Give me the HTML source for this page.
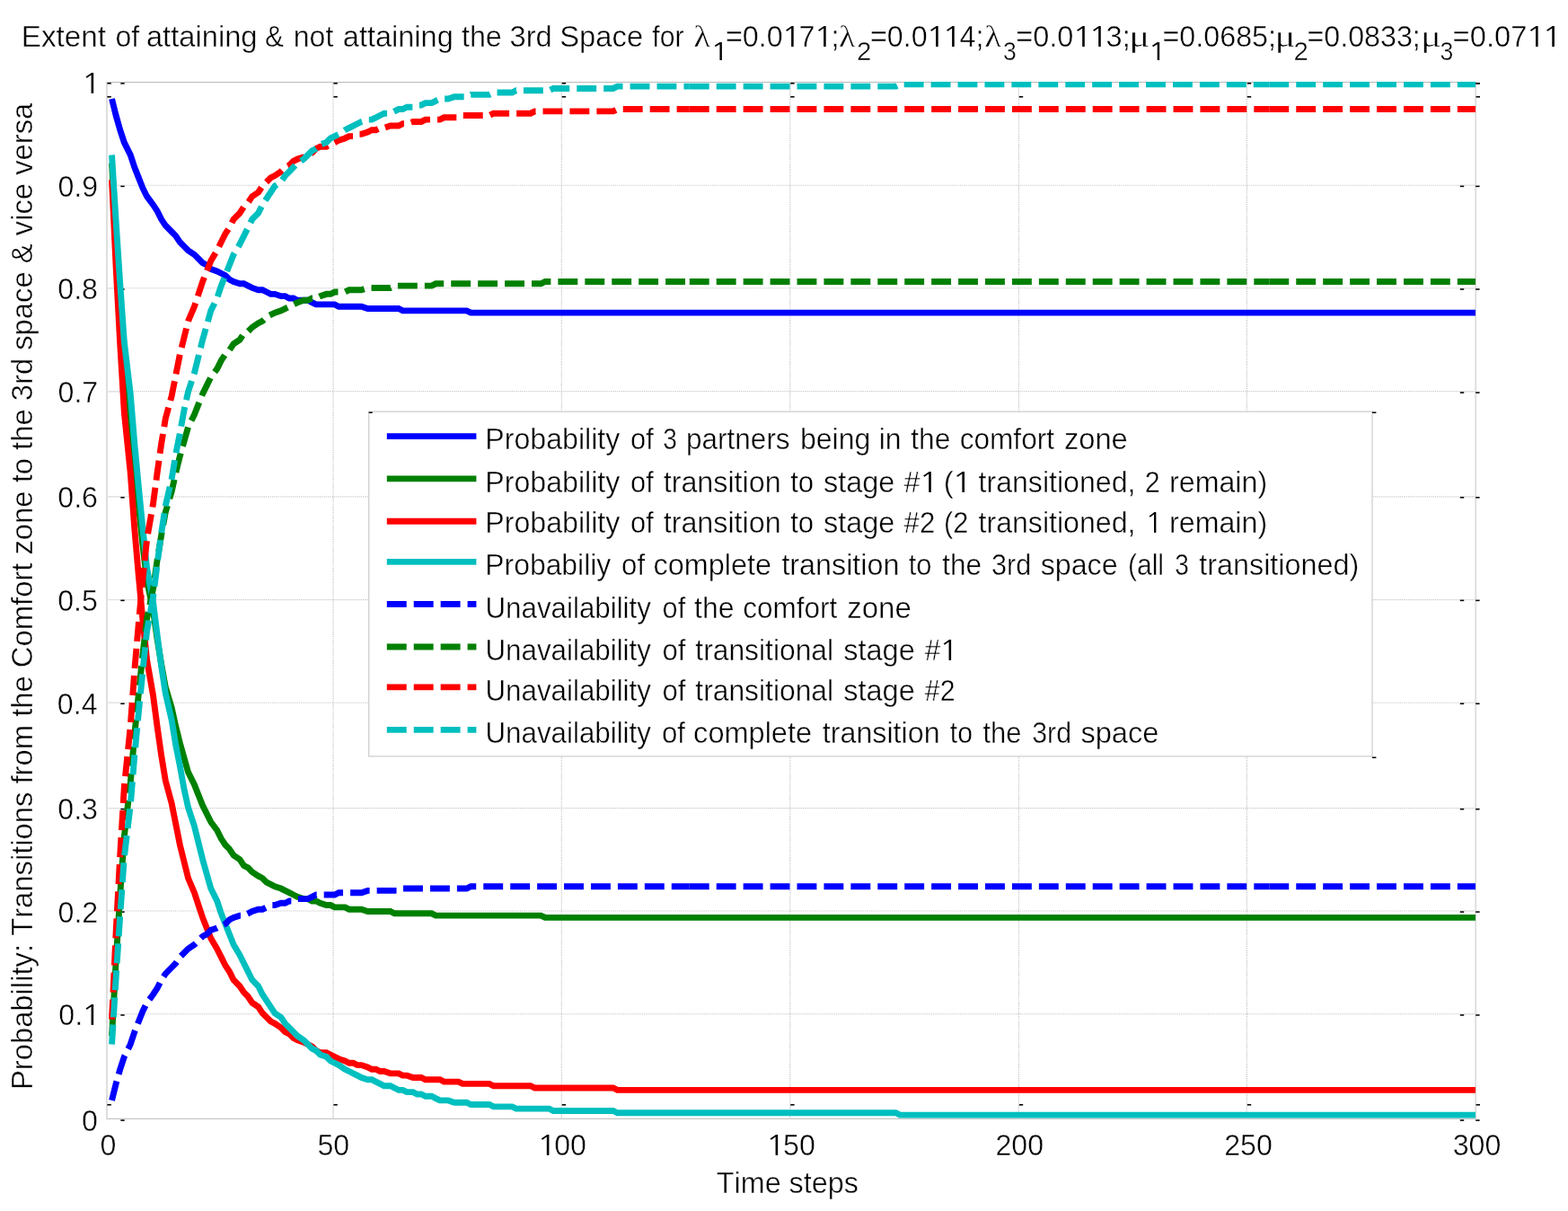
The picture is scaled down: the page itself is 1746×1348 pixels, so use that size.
<!DOCTYPE html>
<html lang="en"><head><meta charset="utf-8"><title>Extent of attaining &amp; not attaining the 3rd Space</title>
<style>html,body{margin:0;padding:0;background:#fff}body{width:1746px;height:1348px;overflow:hidden}svg{display:block}text{font-family:"Liberation Sans",sans-serif;font-size:32.5px;fill:#000;font-kerning:none;stroke:#fff;stroke-width:0.42px;stroke-linejoin:round;paint-order:fill stroke;white-space:pre}.g{font-family:"Liberation Serif",serif;stroke-width:0.45px}.n{font-family:"NanumGothic","IPAGothic","Liberation Sans",sans-serif;stroke:none}</style></head><body>
<svg xmlns="http://www.w3.org/2000/svg" width="1746" height="1348" viewBox="0 0 1746 1348">
<rect width="1746" height="1348" fill="#fff"/>
<defs><clipPath id="ax"><rect x="119.0" y="91.1" width="1524.2" height="1154.3"/></clipPath></defs>
<g fill="none" stroke-width="1.1" stroke-dasharray="1.15,1.15">
<line x1="371.0" y1="91.5" x2="371.0" y2="1245.4" stroke="#bdbdbd"/>
<line x1="625.3" y1="91.5" x2="625.3" y2="1245.4" stroke="#bdbdbd"/>
<line x1="879.8" y1="91.5" x2="879.8" y2="1245.4" stroke="#bdbdbd"/>
<line x1="1134.4" y1="91.5" x2="1134.4" y2="1245.4" stroke="#bdbdbd"/>
<line x1="1388.4" y1="91.5" x2="1388.4" y2="1245.4" stroke="#bdbdbd"/>
<line x1="119.0" y1="206.3" x2="1643.2" y2="206.3" stroke="#c4c4c4"/>
<line x1="119.0" y1="320.7" x2="1643.2" y2="320.7" stroke="#c4c4c4"/>
<line x1="119.0" y1="435.5" x2="1643.2" y2="435.5" stroke="#c4c4c4"/>
<line x1="119.0" y1="552.9" x2="1643.2" y2="552.9" stroke="#c4c4c4"/>
<line x1="119.0" y1="667.6" x2="1643.2" y2="667.6" stroke="#c4c4c4"/>
<line x1="119.0" y1="782.2" x2="1643.2" y2="782.2" stroke="#c4c4c4"/>
<line x1="119.0" y1="899.6" x2="1643.2" y2="899.6" stroke="#c4c4c4"/>
<line x1="119.0" y1="1014.0" x2="1643.2" y2="1014.0" stroke="#c4c4c4"/>
<line x1="119.0" y1="1128.8" x2="1643.2" y2="1128.8" stroke="#c4c4c4"/>
</g>
<g fill="none">
<line x1="118.0" y1="91.5" x2="1644.2" y2="91.5" stroke="#b9b9b9" stroke-width="1.1"/>
<line x1="118.0" y1="1245.4" x2="1644.2" y2="1245.4" stroke="#c6c6c6" stroke-width="1.4"/>
<line x1="119.0" y1="91.5" x2="119.0" y2="1245.4" stroke="#dedede" stroke-width="2"/>
<line x1="1643.2" y1="91.5" x2="1643.2" y2="1245.4" stroke="#dedede" stroke-width="1.9"/>
</g>
<g stroke="#e2e2e2" stroke-width="1.2" fill="none">
<line x1="119.0" y1="1129.0" x2="134.3" y2="1129.0"/>
<line x1="1625.8" y1="1129.0" x2="1643.2" y2="1129.0"/>
<line x1="119.0" y1="1014.1" x2="134.3" y2="1014.1"/>
<line x1="1625.8" y1="1014.1" x2="1643.2" y2="1014.1"/>
<line x1="119.0" y1="899.7" x2="134.3" y2="899.7"/>
<line x1="1625.8" y1="899.7" x2="1643.2" y2="899.7"/>
<line x1="119.0" y1="782.3" x2="134.3" y2="782.3"/>
<line x1="1625.8" y1="782.3" x2="1643.2" y2="782.3"/>
<line x1="119.0" y1="667.4" x2="134.3" y2="667.4"/>
<line x1="1625.8" y1="667.4" x2="1643.2" y2="667.4"/>
<line x1="119.0" y1="552.8" x2="134.3" y2="552.8"/>
<line x1="1625.8" y1="552.8" x2="1643.2" y2="552.8"/>
<line x1="119.0" y1="436.1" x2="134.3" y2="436.1"/>
<line x1="1625.8" y1="436.1" x2="1643.2" y2="436.1"/>
<line x1="119.0" y1="321.0" x2="134.3" y2="321.0"/>
<line x1="1625.8" y1="321.0" x2="1643.2" y2="321.0"/>
<line x1="119.0" y1="206.4" x2="134.3" y2="206.4"/>
<line x1="1625.8" y1="206.4" x2="1643.2" y2="206.4"/>
<line x1="371.0" y1="1229.8" x2="371.0" y2="1245.4"/>
<line x1="371.0" y1="91.5" x2="371.0" y2="106.9"/>
<line x1="625.3" y1="1229.8" x2="625.3" y2="1245.4"/>
<line x1="625.3" y1="91.5" x2="625.3" y2="106.9"/>
<line x1="879.8" y1="1229.8" x2="879.8" y2="1245.4"/>
<line x1="879.8" y1="91.5" x2="879.8" y2="106.9"/>
<line x1="1134.4" y1="1229.8" x2="1134.4" y2="1245.4"/>
<line x1="1134.4" y1="91.5" x2="1134.4" y2="106.9"/>
<line x1="1388.4" y1="1229.8" x2="1388.4" y2="1245.4"/>
<line x1="1388.4" y1="91.5" x2="1388.4" y2="106.9"/>
</g>
<g fill="#000">
<rect x="134.30" y="1246.32" width="4.40" height="1.55"/>
<rect x="1625.80" y="1246.32" width="4.40" height="1.55"/>
<rect x="1643.20" y="1246.32" width="4.40" height="1.55"/>
<rect x="134.30" y="1129.17" width="4.40" height="1.55"/>
<rect x="1625.80" y="1129.17" width="4.40" height="1.55"/>
<rect x="1643.20" y="1129.17" width="4.40" height="1.55"/>
<rect x="134.30" y="1014.32" width="4.40" height="1.55"/>
<rect x="1625.80" y="1014.32" width="4.40" height="1.55"/>
<rect x="1643.20" y="1014.32" width="4.40" height="1.55"/>
<rect x="134.30" y="899.92" width="4.40" height="1.55"/>
<rect x="1625.80" y="899.92" width="4.40" height="1.55"/>
<rect x="1643.20" y="899.92" width="4.40" height="1.55"/>
<rect x="134.30" y="782.52" width="4.40" height="1.55"/>
<rect x="1625.80" y="782.52" width="4.40" height="1.55"/>
<rect x="1643.20" y="782.52" width="4.40" height="1.55"/>
<rect x="134.30" y="667.62" width="4.40" height="1.55"/>
<rect x="1625.80" y="667.62" width="4.40" height="1.55"/>
<rect x="1643.20" y="667.62" width="4.40" height="1.55"/>
<rect x="134.30" y="553.02" width="4.40" height="1.55"/>
<rect x="1625.80" y="553.02" width="4.40" height="1.55"/>
<rect x="1643.20" y="553.02" width="4.40" height="1.55"/>
<rect x="134.30" y="436.27" width="4.40" height="1.55"/>
<rect x="1625.80" y="436.27" width="4.40" height="1.55"/>
<rect x="1643.20" y="436.27" width="4.40" height="1.55"/>
<rect x="134.30" y="321.22" width="4.40" height="1.55"/>
<rect x="1625.80" y="321.22" width="4.40" height="1.55"/>
<rect x="1643.20" y="321.22" width="4.40" height="1.55"/>
<rect x="134.30" y="206.62" width="4.40" height="1.55"/>
<rect x="1625.80" y="206.62" width="4.40" height="1.55"/>
<rect x="1643.20" y="206.62" width="4.40" height="1.55"/>
<rect x="134.30" y="92.12" width="4.40" height="1.55"/>
<rect x="1625.80" y="92.12" width="4.40" height="1.55"/>
<rect x="1643.20" y="92.12" width="4.40" height="1.55"/>
<rect x="119.40" y="1229.02" width="4.40" height="1.55"/>
<rect x="119.40" y="92.02" width="4.40" height="1.55"/>
<rect x="119.40" y="107.02" width="4.40" height="1.55"/>
<rect x="371.40" y="1229.02" width="4.40" height="1.55"/>
<rect x="371.40" y="92.02" width="4.40" height="1.55"/>
<rect x="371.40" y="107.02" width="4.40" height="1.55"/>
<rect x="625.70" y="1229.02" width="4.40" height="1.55"/>
<rect x="625.70" y="92.02" width="4.40" height="1.55"/>
<rect x="625.70" y="107.02" width="4.40" height="1.55"/>
<rect x="880.20" y="1229.02" width="4.40" height="1.55"/>
<rect x="880.20" y="92.02" width="4.40" height="1.55"/>
<rect x="880.20" y="107.02" width="4.40" height="1.55"/>
<rect x="1134.80" y="1229.02" width="4.40" height="1.55"/>
<rect x="1134.80" y="92.02" width="4.40" height="1.55"/>
<rect x="1134.80" y="107.02" width="4.40" height="1.55"/>
<rect x="1388.80" y="1229.02" width="4.40" height="1.55"/>
<rect x="1388.80" y="92.02" width="4.40" height="1.55"/>
<rect x="1388.80" y="107.02" width="4.40" height="1.55"/>
<rect x="1643.60" y="1229.02" width="4.40" height="1.55"/>
<rect x="1643.60" y="92.02" width="4.40" height="1.55"/>
<rect x="1643.60" y="107.02" width="4.40" height="1.55"/>
</g>
<g clip-path="url(#ax)" fill="none" stroke-width="6.9" stroke-linejoin="miter" stroke-linecap="butt">
<path d="M124.54,110.00 L129.14,128.50 L133.73,144.68 L138.33,158.56 L145.22,172.43 L149.81,186.30 L154.41,197.87 L159.00,209.43 L163.60,218.68 L170.49,227.92 L175.09,234.86 L179.68,244.11 L184.27,251.05 L191.17,257.98 L195.76,262.61 L200.36,269.54 L204.95,274.17 L209.54,278.79 L216.44,283.42 L221.03,288.04 L225.63,292.67 L230.22,294.98 L234.81,299.60 L241.71,301.91 L246.30,304.23 L250.90,306.54 L255.49,311.16 L260.09,313.48 L266.98,315.79 L271.57,315.79 L276.17,318.10 L280.76,320.41 L287.65,322.72 L292.25,322.72 L296.84,325.04 L301.44,327.35 L306.03,327.35 L312.92,329.66 L317.52,329.66 L322.11,331.97 L326.71,331.97 L331.30,334.29 L342.79,334.29 L347.38,336.60 L351.98,338.91 L372.65,338.91 L377.25,341.22 L402.52,341.22 L409.41,343.53 L443.87,343.53 L448.46,345.85 L519.68,345.85 L524.27,348.16 L1643.06,348.16" stroke="#0000ff"/>
<path d="M124.54,181.68 L129.14,264.92 L133.73,338.91 L138.33,403.65 L145.22,463.77 L149.81,516.95 L154.41,563.19 L159.00,607.12 L163.60,646.43 L170.49,679.22 L175.09,711.59 L179.68,739.34 L184.27,764.77 L191.17,787.89 L195.76,808.70 L200.36,827.20 L204.95,843.39 L209.54,859.57 L216.44,873.44 L221.03,885.00 L225.63,896.57 L230.22,905.81 L234.81,915.06 L241.71,924.31 L246.30,933.56 L250.90,940.50 L255.49,945.12 L260.09,952.06 L266.98,956.68 L271.57,963.62 L276.17,965.93 L280.76,970.56 L287.65,975.18 L292.25,977.49 L296.84,982.12 L301.44,984.43 L306.03,986.74 L312.92,989.05 L317.52,991.37 L322.11,993.68 L326.71,995.99 L331.30,998.30 L338.19,1000.61 L342.79,1000.61 L347.38,1002.93 L351.98,1002.93 L356.57,1005.24 L363.46,1007.55 L368.06,1007.55 L372.65,1009.86 L384.14,1009.86 L388.73,1012.18 L402.52,1012.18 L409.41,1014.49 L434.68,1014.49 L439.27,1016.80 L480.63,1016.80 L485.22,1019.11 L602.38,1019.11 L606.98,1021.42 L1643.06,1021.42" stroke="#008000"/>
<path d="M124.54,200.18 L129.14,297.29 L133.73,382.84 L138.33,459.14 L145.22,526.20 L149.81,588.63 L154.41,641.81 L159.00,690.78 L163.60,734.71 L170.49,774.02 L175.09,808.70 L179.68,841.07 L184.27,868.82 L191.17,894.25 L195.76,917.38 L200.36,940.50 L204.95,959.00 L209.54,977.49 L216.44,993.68 L221.03,1007.55 L225.63,1021.42 L230.22,1032.99 L234.81,1044.55 L241.71,1056.11 L246.30,1065.36 L250.90,1074.61 L255.49,1081.54 L260.09,1090.79 L266.98,1097.73 L271.57,1104.66 L276.17,1109.29 L280.76,1116.22 L287.65,1120.85 L292.25,1127.79 L296.84,1132.41 L301.44,1137.03 L306.03,1139.35 L312.92,1143.97 L317.52,1148.60 L322.11,1150.91 L326.71,1155.53 L331.30,1157.84 L338.19,1160.16 L342.79,1162.47 L347.38,1164.78 L351.98,1169.41 L356.57,1171.72 L363.46,1171.72 L368.06,1174.03 L372.65,1176.34 L377.25,1178.65 L384.14,1180.97 L388.73,1183.28 L393.33,1183.28 L397.92,1185.59 L402.52,1185.59 L409.41,1187.90 L414.00,1190.22 L418.60,1190.22 L423.19,1192.53 L427.79,1192.53 L434.68,1194.84 L443.87,1194.84 L448.46,1197.15 L453.06,1197.15 L459.95,1199.46 L469.14,1199.46 L473.73,1201.78 L489.82,1201.78 L494.41,1204.09 L510.49,1204.09 L515.09,1206.40 L544.95,1206.40 L549.55,1208.71 L590.90,1208.71 L595.49,1211.03 L682.79,1211.03 L687.38,1213.34 L1643.06,1213.34" stroke="#ff0000"/>
<path d="M124.54,172.43 L129.14,246.42 L133.73,315.79 L138.33,380.53 L145.22,438.33 L149.81,493.83 L154.41,542.38 L159.00,588.63 L163.60,632.56 L170.49,669.97 L175.09,706.97 L179.68,741.65 L184.27,771.71 L191.17,801.77 L195.76,829.51 L200.36,852.63 L204.95,878.07 L209.54,898.88 L216.44,919.69 L221.03,938.19 L225.63,956.68 L230.22,972.87 L234.81,989.05 L241.71,1002.93 L246.30,1016.80 L250.90,1028.36 L255.49,1039.92 L260.09,1051.48 L266.98,1063.04 L271.57,1072.29 L276.17,1081.54 L280.76,1090.79 L287.65,1097.73 L292.25,1106.98 L296.84,1113.91 L301.44,1120.85 L306.03,1127.79 L312.92,1132.41 L317.52,1139.35 L322.11,1143.97 L326.71,1148.60 L331.30,1153.22 L338.19,1157.84 L342.79,1162.47 L347.38,1167.09 L351.98,1169.41 L356.57,1174.03 L363.46,1176.34 L368.06,1180.97 L372.65,1183.28 L377.25,1185.59 L384.14,1190.22 L388.73,1192.53 L393.33,1194.84 L397.92,1197.15 L402.52,1199.46 L409.41,1201.78 L414.00,1201.78 L418.60,1204.09 L423.19,1206.40 L427.79,1208.71 L434.68,1208.71 L439.27,1211.03 L443.87,1213.34 L448.46,1213.34 L453.06,1215.65 L459.95,1215.65 L464.54,1217.96 L469.14,1217.96 L473.73,1220.27 L480.63,1220.27 L485.22,1222.59 L489.82,1224.90 L499.00,1224.90 L505.90,1227.21 L519.68,1227.21 L524.27,1229.52 L544.95,1229.52 L549.55,1231.83 L570.22,1231.83 L574.82,1234.15 L611.57,1234.15 L616.17,1236.46 L682.79,1236.46 L687.38,1238.77 L997.52,1238.77 L1002.11,1241.08 L1643.06,1241.08" stroke="#00bfbf"/>
<g transform="scale(2.2973,2.3122)" stroke="#0000ff" stroke-width="3.004" stroke-dasharray="9.533,3.495">
<path d="M54.213,529.754 L56.213,521.754 L58.213,514.754 L60.213,508.754 L63.213,502.754 L65.213,496.754 L67.213,491.754 L69.213,486.754 L71.213,482.754 L74.213,478.754 L76.213,475.754 L78.213,471.754 L80.213,468.754 L83.213,465.754 L85.213,463.754 L87.213,460.754 L89.213,458.754 L91.213,456.754 L94.213,454.754 L96.213,452.754 L98.213,450.754 L100.213,449.754 L102.213,447.754 L105.213,446.754 L107.213,445.754 L109.213,444.754 L111.213,442.754 L113.213,441.754 L116.213,440.754 L118.213,440.754 L120.213,439.754 L122.213,438.754 L125.213,437.754 L127.213,437.754 L129.213,436.754 L131.213,435.754 L133.213,435.754 L136.213,434.754 L138.213,434.754 L140.213,433.754 L142.213,433.754 L144.213,432.754 L149.213,432.754 L151.213,431.754 L153.213,430.754 L162.213,430.754 L164.213,429.754 L175.213,429.754 L178.213,428.754 L193.213,428.754 L195.213,427.754 L226.213,427.754 L228.213,426.754 L334.213,426.754"/>
<path d="M334.213,426.754 L615.213,426.754"/>
<path d="M615.213,426.754 L715.213,426.754"/>
</g>
<g transform="scale(2.2973,2.3122)" stroke="#008000" stroke-width="3.004" stroke-dasharray="9.533,3.495">
<path d="M54.213,498.754 L56.213,462.754 L58.213,430.754 L60.213,402.754 L63.213,376.754 L65.213,353.754 L67.213,333.754 L69.213,314.754 L71.213,297.754 L74.213,283.574 L76.213,269.574 L78.213,257.574 L80.213,246.574 L83.213,236.574 L85.213,227.574 L87.213,219.574 L89.213,212.574 L91.213,205.574 L94.213,199.574 L96.213,194.574 L98.213,189.574 L100.213,185.574 L102.213,181.574 L105.213,177.574 L107.213,173.574 L109.213,170.574 L111.213,168.574 L113.213,165.574 L116.213,163.574 L118.213,160.574 L120.213,159.574 L122.213,157.574 L125.213,155.574 L127.213,154.574 L129.213,152.574 L131.213,151.574 L133.213,150.574 L136.213,149.574 L138.213,148.574 L140.213,147.574 L142.213,146.574 L144.213,145.574 L147.213,144.574 L149.213,144.574 L151.213,143.574 L153.213,143.574 L155.213,142.574 L158.213,141.574 L160.213,141.574 L162.213,140.574 L167.213,140.574 L169.213,139.574 L175.213,139.574 L178.213,138.574 L189.213,138.574 L191.213,137.574 L209.213,137.574 L211.213,136.574 L262.213,136.574 L264.213,135.574 L334.213,135.574"/>
<path d="M334.213,135.574 L615.213,135.574"/>
<path d="M615.213,135.574 L715.213,135.574"/>
</g>
<g transform="scale(2.2973,2.3122)" stroke="#ff0000" stroke-width="3.004" stroke-dasharray="9.533,3.495">
<path d="M54.213,490.754 L56.213,448.754 L58.213,411.754 L60.213,378.754 L63.213,349.754 L65.213,322.754 L67.213,299.754 L69.213,278.574 L71.213,259.574 L74.213,242.574 L76.213,227.574 L78.213,213.574 L80.213,201.574 L83.213,190.574 L85.213,180.574 L87.213,170.574 L89.213,162.574 L91.213,154.574 L94.213,147.574 L96.213,141.574 L98.213,135.574 L100.213,130.574 L102.213,125.574 L105.213,120.574 L107.213,116.574 L109.213,112.574 L111.213,109.574 L113.213,105.574 L116.213,102.574 L118.213,99.574 L120.213,97.574 L122.213,94.574 L125.213,92.574 L127.213,89.574 L129.213,87.574 L131.213,85.574 L133.213,84.574 L136.213,82.574 L138.213,80.574 L140.213,79.574 L142.213,77.574 L144.213,76.574 L147.213,75.574 L149.213,74.574 L151.213,73.574 L153.213,71.574 L155.213,70.574 L158.213,70.574 L160.213,69.574 L162.213,68.574 L164.213,67.574 L167.213,66.574 L169.213,65.574 L171.213,65.574 L173.213,64.574 L175.213,64.574 L178.213,63.574 L180.213,62.574 L182.213,62.574 L184.213,61.574 L186.213,61.574 L189.213,60.574 L193.213,60.574 L195.213,59.574 L197.213,59.574 L200.213,58.574 L204.213,58.574 L206.213,57.574 L213.213,57.574 L215.213,56.574 L222.213,56.574 L224.213,55.574 L237.213,55.574 L239.213,54.574 L257.213,54.574 L259.213,53.574 L297.213,53.574 L299.213,52.574 L334.213,52.574"/>
<path d="M334.213,52.574 L615.213,52.574"/>
<path d="M615.213,52.574 L715.213,52.574"/>
</g>
<g transform="scale(2.2973,2.3122)" stroke="#00bfbf" stroke-width="3.004" stroke-dasharray="9.533,3.495">
<path d="M54.213,502.754 L56.213,470.754 L58.213,440.754 L60.213,412.754 L63.213,387.754 L65.213,363.754 L67.213,342.754 L69.213,322.754 L71.213,303.754 L74.213,287.574 L76.213,271.574 L78.213,256.574 L80.213,243.574 L83.213,230.574 L85.213,218.574 L87.213,208.574 L89.213,197.574 L91.213,188.574 L94.213,179.574 L96.213,171.574 L98.213,163.574 L100.213,156.574 L102.213,149.574 L105.213,143.574 L107.213,137.574 L109.213,132.574 L111.213,127.574 L113.213,122.574 L116.213,117.574 L118.213,113.574 L120.213,109.574 L122.213,105.574 L125.213,102.574 L127.213,98.574 L129.213,95.574 L131.213,92.574 L133.213,89.574 L136.213,87.574 L138.213,84.574 L140.213,82.574 L142.213,80.574 L144.213,78.574 L147.213,76.574 L149.213,74.574 L151.213,72.574 L153.213,71.574 L155.213,69.574 L158.213,68.574 L160.213,66.574 L162.213,65.574 L164.213,64.574 L167.213,62.574 L169.213,61.574 L171.213,60.574 L173.213,59.574 L175.213,58.574 L178.213,57.574 L180.213,57.574 L182.213,56.574 L184.213,55.574 L186.213,54.574 L189.213,54.574 L191.213,53.574 L193.213,52.574 L195.213,52.574 L197.213,51.574 L200.213,51.574 L202.213,50.574 L204.213,50.574 L206.213,49.574 L209.213,49.574 L211.213,48.574 L213.213,47.574 L217.213,47.574 L220.213,46.574 L226.213,46.574 L228.213,45.574 L237.213,45.574 L239.213,44.574 L248.213,44.574 L250.213,43.574 L266.213,43.574 L268.213,42.574 L297.213,42.574 L299.213,41.574 L334.213,41.574"/>
<path d="M334.213,41.574 L434.213,41.574 L436.213,40.574 L615.213,40.574"/>
<path d="M615.213,40.574 L715.213,40.574"/>
</g>
</g>
<text transform="translate(90.96,1258.50) scale(0.9900,1.0000)">0</text>
<text transform="translate(65.29,1141.35) scale(0.9900,1.0000)">0.</text>
<text transform="translate(90.30,1141.35) scale(1.2200,1.0000)" class="n" style="font-size:30.9px">1</text>
<text transform="translate(64.49,1026.50) scale(0.9900,1.0000)">0.2</text>
<text transform="translate(64.29,912.10) scale(0.9900,1.0000)">0.3</text>
<text transform="translate(63.81,794.70) scale(0.9900,1.0000)">0.4</text>
<text transform="translate(64.22,679.80) scale(0.9900,1.0000)">0.5</text>
<text transform="translate(64.29,565.20) scale(0.9900,1.0000)">0.6</text>
<text transform="translate(64.49,448.45) scale(0.9900,1.0000)">0.7</text>
<text transform="translate(64.27,333.40) scale(0.9900,1.0000)">0.8</text>
<text transform="translate(64.40,218.80) scale(0.9900,1.0000)">0.9</text>
<text transform="translate(90.30,104.30) scale(1.2200,1.0000)" class="n" style="font-size:30.9px">1</text>
<text transform="translate(111.50,1286.20) scale(0.9900,1.0000)">0</text>
<text transform="translate(353.44,1286.20) scale(0.9900,1.0000)">50</text>
<text transform="translate(597.52,1286.20) scale(1.2200,1.0000)" class="n" style="font-size:30.9px">1</text>
<text transform="translate(617.23,1286.20) scale(0.9900,1.0000)">00</text>
<text transform="translate(852.32,1286.20) scale(1.2200,1.0000)" class="n" style="font-size:30.9px">1</text>
<text transform="translate(872.03,1286.20) scale(0.9900,1.0000)">50</text>
<text transform="translate(1108.48,1286.20) scale(0.9900,1.0000)">200</text>
<text transform="translate(1363.13,1286.20) scale(0.9900,1.0000)">250</text>
<text transform="translate(1617.67,1286.20) scale(0.9900,1.0000)">300</text>
<text transform="translate(797.77,1328.30) scale(0.9954,1.0000)">Time steps</text>
<text transform="translate(36.30,1213.09) rotate(-90) scale(1.0091,1.0000)">Probability: Transitions from the Comfort zone to the 3rd space &amp; vice versa</text>
<text transform="translate(23.77,51.50) scale(1.0243,1.0000)">Extent </text>
<text transform="translate(128.56,51.50) scale(0.9850,1.0000)">of </text>
<text transform="translate(162.91,51.50) scale(1.0067,1.0000)">attaining </text>
<text transform="translate(295.10,51.50) scale(0.9637,1.0000)">&amp; </text>
<text transform="translate(326.77,51.50) scale(0.9864,1.0000)">not </text>
<text transform="translate(381.82,51.50) scale(1.0008,1.0000)">attaining </text>
<text transform="translate(513.91,51.50) scale(0.9944,1.0000)">the </text>
<text transform="translate(567.45,51.50) scale(1.0060,1.0000)">3rd </text>
<text transform="translate(623.21,51.50) scale(1.0086,1.0000)">Space </text>
<text transform="translate(726.37,51.50) scale(0.9288,1.0000)">for </text>
<text transform="translate(772.27,51.70) scale(1.1290,1.0000)" class="g" style="font-size:34.6px">λ</text>
<text transform="translate(790.78,66.60) scale(1.3091,1.0000)" class="n" style="font-size:27.2px">1</text>
<text transform="translate(807.92,51.50) scale(0.9934,1.0000)">=0.0</text>
<text transform="translate(869.84,51.50) scale(1.2242,1.0000)" class="n" style="font-size:30.9px">1</text>
<text transform="translate(889.62,51.50) scale(0.9934,1.0000)">7</text>
<text transform="translate(905.75,51.50) scale(1.2242,1.0000)" class="n" style="font-size:30.9px">1</text>
<text transform="translate(925.53,51.50) scale(0.9934,1.0000)">;</text>
<text transform="translate(934.00,51.70) scale(1.0971,1.0000)" class="g" style="font-size:34.6px">λ</text>
<text transform="translate(954.12,66.60) scale(1.0285,1.0000)" style="font-size:28.6px">2</text>
<text transform="translate(968.92,51.50) scale(0.9934,1.0000)">=0.0</text>
<text transform="translate(1030.84,51.50) scale(1.2242,1.0000)" class="n" style="font-size:30.9px">1</text>
<text transform="translate(1048.79,51.50) scale(1.2242,1.0000)" class="n" style="font-size:30.9px">1</text>
<text transform="translate(1068.57,51.50) scale(0.9934,1.0000)">4;</text>
<text transform="translate(1096.27,51.70) scale(1.1290,1.0000)" class="g" style="font-size:34.6px">λ</text>
<text transform="translate(1116.99,66.60) scale(0.9292,1.0000)" style="font-size:28.6px">3</text>
<text transform="translate(1131.31,51.50) scale(0.9999,1.0000)">=0.0</text>
<text transform="translate(1193.63,51.50) scale(1.2323,1.0000)" class="n" style="font-size:30.9px">1</text>
<text transform="translate(1211.71,51.50) scale(1.2323,1.0000)" class="n" style="font-size:30.9px">1</text>
<text transform="translate(1231.62,51.50) scale(0.9999,1.0000)">3;</text>
<text transform="translate(1257.32,51.70) scale(1.2719,1.0000)" class="g" style="font-size:33.8px">μ</text>
<text transform="translate(1277.88,66.60) scale(1.3091,1.0000)" class="n" style="font-size:27.2px">1</text>
<text transform="translate(1294.52,51.50) scale(0.9934,1.0000)">=0.0685;</text>
<text transform="translate(1419.52,51.70) scale(1.2719,1.0000)" class="g" style="font-size:33.8px">μ</text>
<text transform="translate(1440.52,66.60) scale(1.0285,1.0000)" style="font-size:28.6px">2</text>
<text transform="translate(1455.42,51.50) scale(0.9926,1.0000)">=0.0833;</text>
<text transform="translate(1581.92,51.70) scale(1.2719,1.0000)" class="g" style="font-size:33.8px">μ</text>
<text transform="translate(1603.39,66.60) scale(0.9292,1.0000)" style="font-size:28.6px">3</text>
<text transform="translate(1617.60,51.50) scale(1.0070,1.0000)">=0.07</text>
<text transform="translate(1698.56,51.50) scale(1.2409,1.0000)" class="n" style="font-size:30.9px">1</text>
<text transform="translate(1716.76,51.50) scale(1.2409,1.0000)" class="n" style="font-size:30.9px">1</text>
<rect x="410.7" y="458.2" width="1117.3" height="383.7" fill="#fff" stroke="#cfcfcf" stroke-width="1.3"/>
<g fill="#000">
<rect x="410.70" y="458.50" width="4.00" height="1.50"/>
<rect x="1528.00" y="458.50" width="4.40" height="1.50"/>
<rect x="1528.00" y="842.50" width="4.40" height="1.50"/>
</g>
<line x1="430.8" y1="485.6" x2="530.4" y2="485.6" stroke="#0000ff" stroke-width="6.9"/>
<text transform="translate(540.26,500.20) scale(0.9892,1.0000)">Probability </text>
<text transform="translate(702.10,500.20) scale(0.9501,1.0000)">of </text>
<text transform="translate(738.13,500.20) scale(0.8631,1.0000)">3 </text>
<text transform="translate(764.07,500.20) scale(0.9693,1.0000)">partners </text>
<text transform="translate(890.93,500.20) scale(0.9863,1.0000)">being </text>
<text transform="translate(978.76,500.20) scale(0.9852,1.0000)">in </text>
<text transform="translate(1014.22,500.20) scale(0.9759,1.0000)">the </text>
<text transform="translate(1068.66,500.20) scale(0.9725,1.0000)">comfort </text>
<text transform="translate(1184.88,500.20) scale(1.0057,1.0000)">zone</text>
<line x1="430.8" y1="532.9" x2="530.4" y2="532.9" stroke="#008000" stroke-width="6.9"/>
<text transform="translate(540.26,547.50) scale(0.9892,1.0000)">Probability </text>
<text transform="translate(702.10,547.50) scale(0.9501,1.0000)">of </text>
<text transform="translate(738.71,547.50) scale(0.9933,1.0000)">transition </text>
<text transform="translate(880.13,547.50) scale(0.9585,1.0000)">to </text>
<text transform="translate(917.00,547.50) scale(0.9993,1.0000)">stage </text>
<text transform="translate(1006.56,547.50) scale(1.0021,1.0000)">#</text>
<text transform="translate(1022.83,547.50) scale(1.2350,1.0000)" class="n" style="font-size:30.9px">1</text>
<text transform="translate(1042.78,547.50) scale(1.0021,1.0000)"> </text>
<text transform="translate(1050.76,547.50) scale(1.0138,1.0000)">(</text>
<text transform="translate(1059.87,547.50) scale(1.2493,1.0000)" class="n" style="font-size:30.9px">1</text>
<text transform="translate(1080.05,547.50) scale(1.0138,1.0000)"> </text>
<text transform="translate(1089.51,547.50) scale(0.9888,1.0000)">transitioned, </text>
<text transform="translate(1274.87,547.50) scale(0.9388,1.0000)">2 </text>
<text transform="translate(1302.06,547.50) scale(0.9907,1.0000)">remain)</text>
<line x1="430.8" y1="580.3" x2="530.4" y2="580.3" stroke="#ff0000" stroke-width="6.9"/>
<text transform="translate(540.26,593.00) scale(0.9892,1.0000)">Probability </text>
<text transform="translate(702.10,593.00) scale(0.9501,1.0000)">of </text>
<text transform="translate(738.71,593.00) scale(0.9933,1.0000)">transition </text>
<text transform="translate(880.13,593.00) scale(0.9585,1.0000)">to </text>
<text transform="translate(917.00,593.00) scale(0.9993,1.0000)">stage </text>
<text transform="translate(1006.56,593.00) scale(0.9601,1.0000)">#2 </text>
<text transform="translate(1050.89,593.00) scale(0.9466,1.0000)">(2 </text>
<text transform="translate(1089.51,593.00) scale(0.9888,1.0000)">transitioned, </text>
<text transform="translate(1274.99,593.00) scale(1.0809,1.0000)" class="n" style="font-size:30.9px">1</text>
<text transform="translate(1292.45,593.00) scale(0.8771,1.0000)"> </text>
<text transform="translate(1302.06,593.00) scale(0.9907,1.0000)">remain)</text>
<line x1="430.8" y1="625.4" x2="530.4" y2="625.4" stroke="#00bfbf" stroke-width="6.9"/>
<text transform="translate(540.28,640.40) scale(0.9816,1.0000)">Probabiliy </text>
<text transform="translate(692.09,640.40) scale(0.9578,1.0000)">of </text>
<text transform="translate(727.52,640.40) scale(0.9973,1.0000)">complete </text>
<text transform="translate(870.41,640.40) scale(0.9933,1.0000)">transition </text>
<text transform="translate(1011.73,640.40) scale(0.9506,1.0000)">to </text>
<text transform="translate(1049.22,640.40) scale(0.9712,1.0000)">the </text>
<text transform="translate(1104.04,640.40) scale(0.9395,1.0000)">3rd </text>
<text transform="translate(1158.70,640.40) scale(0.9896,1.0000)">space </text>
<text transform="translate(1255.94,640.40) scale(0.9247,1.0000)">(all </text>
<text transform="translate(1308.33,640.40) scale(0.8631,1.0000)">3 </text>
<text transform="translate(1335.21,640.40) scale(0.9958,1.0000)">transitioned)</text>
<line x1="430.8" y1="672.5" x2="530.4" y2="672.5" stroke="#0000ff" stroke-width="6.9" stroke-dasharray="21.90,8.03"/>
<text transform="translate(540.48,687.80) scale(0.9634,1.0000)">Unavailability </text>
<text transform="translate(737.61,687.80) scale(0.9423,1.0000)">of </text>
<text transform="translate(773.02,687.80) scale(0.9851,1.0000)">the </text>
<text transform="translate(827.16,687.80) scale(0.9697,1.0000)">comfort </text>
<text transform="translate(943.16,687.80) scale(1.0160,1.0000)">zone</text>
<line x1="430.8" y1="720.0" x2="530.4" y2="720.0" stroke="#008000" stroke-width="6.9" stroke-dasharray="21.90,8.03"/>
<text transform="translate(540.48,735.10) scale(0.9634,1.0000)">Unavailability </text>
<text transform="translate(737.40,735.10) scale(0.9540,1.0000)">of </text>
<text transform="translate(774.32,735.10) scale(0.9786,1.0000)">transitional </text>
<text transform="translate(939.30,735.10) scale(0.9993,1.0000)">stage </text>
<text transform="translate(1029.86,735.10) scale(0.9690,1.0000)">#</text>
<text transform="translate(1045.60,735.10) scale(1.1941,1.0000)" class="n" style="font-size:30.9px">1</text>
<line x1="430.8" y1="764.9" x2="530.4" y2="764.9" stroke="#ff0000" stroke-width="6.9" stroke-dasharray="21.90,8.03"/>
<text transform="translate(540.48,780.30) scale(0.9634,1.0000)">Unavailability </text>
<text transform="translate(737.40,780.30) scale(0.9540,1.0000)">of </text>
<text transform="translate(774.32,780.30) scale(0.9786,1.0000)">transitional </text>
<text transform="translate(939.30,780.30) scale(0.9993,1.0000)">stage </text>
<text transform="translate(1029.87,780.30) scale(0.9339,1.0000)">#2</text>
<line x1="430.8" y1="812.4" x2="530.4" y2="812.4" stroke="#00bfbf" stroke-width="6.9" stroke-dasharray="21.90,8.03"/>
<text transform="translate(540.48,827.40) scale(0.9634,1.0000)">Unavailability </text>
<text transform="translate(736.99,827.40) scale(0.9578,1.0000)">of </text>
<text transform="translate(772.12,827.40) scale(1.0012,1.0000)">complete </text>
<text transform="translate(915.81,827.40) scale(0.9917,1.0000)">transition </text>
<text transform="translate(1057.84,827.40) scale(0.9308,1.0000)">to </text>
<text transform="translate(1094.53,827.40) scale(0.9504,1.0000)">the </text>
<text transform="translate(1149.25,827.40) scale(0.9326,1.0000)">3rd </text>
<text transform="translate(1203.39,827.40) scale(1.0038,1.0000)">space</text>
</svg></body></html>
